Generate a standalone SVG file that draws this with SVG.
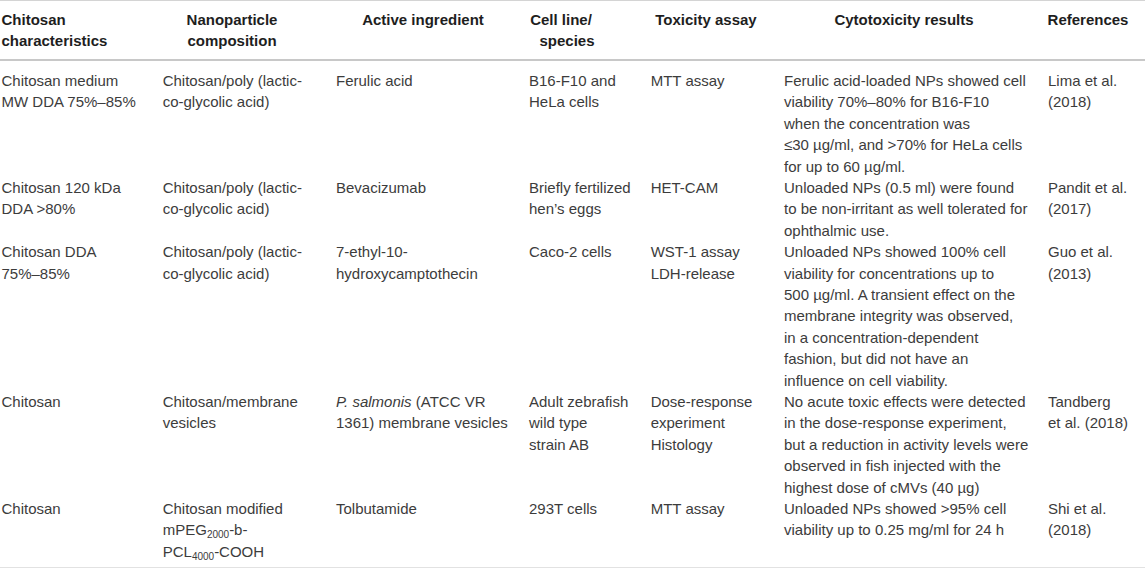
<svg xmlns="http://www.w3.org/2000/svg" width="1145" height="571" viewBox="0 0 1145 571">
<style>
text{font-family:"Liberation Sans",Arial,Helvetica,sans-serif;font-size:15px}
.h{font-weight:bold;fill:#1e1e1e}
.hc{text-anchor:middle}
.b{fill:#3c3c3c}
.rule{stroke:#d4d4d4;fill:none}
</style>
<rect x="0" y="0" width="1145" height="571" fill="#ffffff"/>
<g id="rules">
<line class="rule" x1="0" y1="0.5" x2="1145" y2="0.5" stroke-width="1"/>
<line class="rule" x1="0" y1="60" x2="1145" y2="60" stroke-width="2" style="stroke:#c8c8c8"/>
<line class="rule" x1="0" y1="567.5" x2="1145" y2="567.5" stroke-width="1.2" style="stroke:#e2e2e2"/>
</g>
<g id="header">
<text class="h" x="1.5" y="25">Chitosan<tspan x="1.5" y="46">characteristics</tspan></text>
<text class="h hc" x="232" y="25">Nanoparticle<tspan x="232" y="46">composition</tspan></text>
<text class="h hc" x="423" y="25">Active ingredient</text>
<text class="h hc" x="561" y="25">Cell line/<tspan x="567" y="46">species</tspan></text>
<text class="h hc" x="706" y="25">Toxicity assay</text>
<text class="h hc" x="904" y="25">Cytotoxicity results</text>
<text class="h hc" x="1088" y="25">References</text>
</g>
<g id="row1">
<text class="b" x="1.5" y="86">Chitosan medium<tspan x="1.5" y="107.4">MW DDA 75%–85%</tspan></text>
<text class="b" x="162.7" y="86">Chitosan/poly (lactic-<tspan x="162.7" y="107.4">co-glycolic acid)</tspan></text>
<text class="b" x="336" y="86">Ferulic acid</text>
<text class="b" x="529" y="86">B16-F10 and<tspan x="529" y="107.4">HeLa cells</tspan></text>
<text class="b" x="650.7" y="86">MTT assay</text>
<text class="b" x="784" y="86">Ferulic acid-loaded NPs showed cell<tspan x="784" y="107.4">viability 70%–80% for B16-F10</tspan><tspan x="784" y="128.8">when the concentration was</tspan><tspan x="784" y="150.2">≤30 µg/ml, and &gt;70% for HeLa cells</tspan><tspan x="784" y="171.6">for up to 60 µg/ml.</tspan></text>
<text class="b" x="1048" y="86">Lima et al.<tspan x="1048" y="107.4">(2018)</tspan></text>
</g>
<g id="row2">
<text class="b" x="1.5" y="193">Chitosan 120 kDa<tspan x="1.5" y="214.4">DDA &gt;80%</tspan></text>
<text class="b" x="162.7" y="193">Chitosan/poly (lactic-<tspan x="162.7" y="214.4">co-glycolic acid)</tspan></text>
<text class="b" x="336" y="193">Bevacizumab</text>
<text class="b" x="529" y="193">Briefly fertilized<tspan x="529" y="214.4">hen’s eggs</tspan></text>
<text class="b" x="650.7" y="193">HET-CAM</text>
<text class="b" x="784" y="193">Unloaded NPs (0.5 ml) were found<tspan x="784" y="214.4">to be non-irritant as well tolerated for</tspan><tspan x="784" y="235.8">ophthalmic use.</tspan></text>
<text class="b" x="1048" y="193">Pandit et al.<tspan x="1048" y="214.4">(2017)</tspan></text>
</g>
<g id="row3">
<text class="b" x="1.5" y="257.2">Chitosan DDA<tspan x="1.5" y="278.6">75%–85%</tspan></text>
<text class="b" x="162.7" y="257.2">Chitosan/poly (lactic-<tspan x="162.7" y="278.6">co-glycolic acid)</tspan></text>
<text class="b" x="336" y="257.2">7-ethyl-10-<tspan x="336" y="278.6">hydroxycamptothecin</tspan></text>
<text class="b" x="529" y="257.2">Caco-2 cells</text>
<text class="b" x="650.7" y="257.2">WST-1 assay<tspan x="650.7" y="278.6">LDH-release</tspan></text>
<text class="b" x="784" y="257.2">Unloaded NPs showed 100% cell<tspan x="784" y="278.6">viability for concentrations up to</tspan><tspan x="784" y="300">500 µg/ml. A transient effect on the</tspan><tspan x="784" y="321.4">membrane integrity was observed,</tspan><tspan x="784" y="342.8">in a concentration-dependent</tspan><tspan x="784" y="364.2">fashion, but did not have an</tspan><tspan x="784" y="385.6">influence on cell viability.</tspan></text>
<text class="b" x="1048" y="257.2">Guo et al.<tspan x="1048" y="278.6">(2013)</tspan></text>
</g>
<g id="row4">
<text class="b" x="1.5" y="407">Chitosan</text>
<text class="b" x="162.7" y="407">Chitosan/membrane<tspan x="162.7" y="428.4">vesicles</tspan></text>
<text class="b" x="336" y="407"><tspan font-style="italic">P. salmonis</tspan> (ATCC VR<tspan x="336" y="428.4">1361) membrane vesicles</tspan></text>
<text class="b" x="529" y="407">Adult zebrafish<tspan x="529" y="428.4">wild type</tspan><tspan x="529" y="449.8">strain AB</tspan></text>
<text class="b" x="650.7" y="407">Dose-response<tspan x="650.7" y="428.4">experiment</tspan><tspan x="650.7" y="449.8">Histology</tspan></text>
<text class="b" x="784" y="407">No acute toxic effects were detected<tspan x="784" y="428.4">in the dose-response experiment,</tspan><tspan x="784" y="449.8">but a reduction in activity levels were</tspan><tspan x="784" y="471.2">observed in fish injected with the</tspan><tspan x="784" y="492.6">highest dose of cMVs (40 µg)</tspan></text>
<text class="b" x="1048" y="407">Tandberg<tspan x="1048" y="428.4">et al. (2018)</tspan></text>
</g>
<g id="row5">
<text class="b" x="1.5" y="514">Chitosan</text>
<text class="b" x="162.7" y="514">Chitosan modified<tspan x="162.7" y="535.4">mPEG</tspan><tspan font-size="10" dy="3">2000</tspan><tspan dy="-3">-b-</tspan><tspan x="162.7" y="556.8">PCL</tspan><tspan font-size="10" dy="3">4000</tspan><tspan dy="-3">-COOH</tspan></text>
<text class="b" x="336" y="514">Tolbutamide</text>
<text class="b" x="529" y="514">293T cells</text>
<text class="b" x="650.7" y="514">MTT assay</text>
<text class="b" x="784" y="514">Unloaded NPs showed &gt;95% cell<tspan x="784" y="535.4">viability up to 0.25 mg/ml for 24 h</tspan></text>
<text class="b" x="1048" y="514">Shi et al.<tspan x="1048" y="535.4">(2018)</tspan></text>
</g>
</svg>
